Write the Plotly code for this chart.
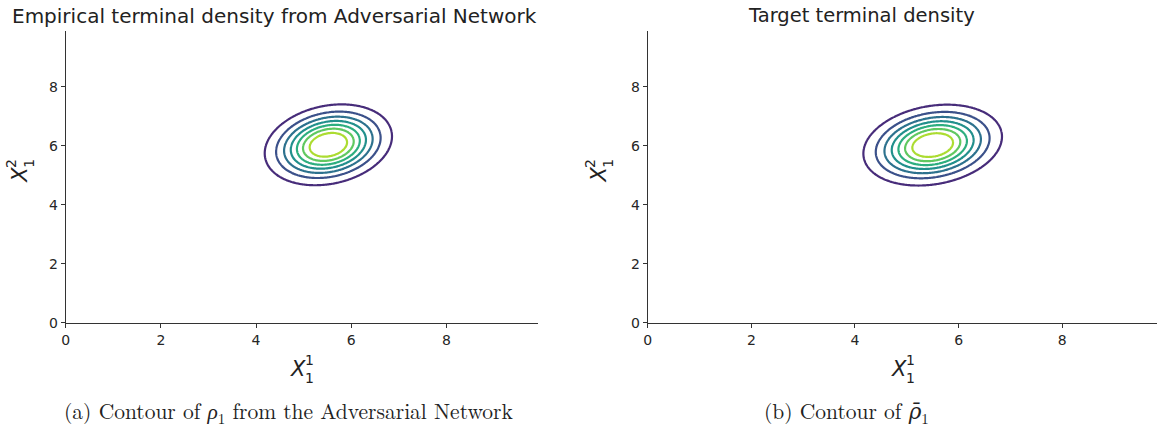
import numpy as np
import plotly.graph_objects as go
from plotly.colors import sample_colorscale

# Gaussian terminal densities: learned (left) and target (right)
learned_mean = [5.52, 6.03]
learned_cov = [[0.42, 0.09], [0.09, 0.44]]
target_mean = [5.50, 6.02]
target_cov = [[0.42, 0.09], [0.09, 0.44]]

# Contour levels shared by both panels
contour_levels = [0.045, 0.09, 0.135, 0.18, 0.225, 0.27, 0.315]
level_top = 0.36

tick_values = [0, 2, 4, 6, 8]
panel_titles = ["Empirical terminal density from Adversarial Network", "Target terminal density"]
captions = ["(a) Contour of <i>ρ</i><sub>1</sub> from the Adversarial Network",
            "(b) Contour of <span style=\"font-family:DejaVu Serif\"><i>ρ\u0304</i></span><sub>1</sub>"]

W, H = 1157, 430
grid_x = np.linspace(2.5, 8.5, 241)
grid_y = np.linspace(3.0, 9.0, 241)

# viridis sampled at each level's share of the top level
line_colors = sample_colorscale("Viridis", [lv / level_top for lv in contour_levels])
n = len(line_colors)
level_scale = [[k / (n - 1), col] for k, col in enumerate(line_colors)]


def density(mean, cov):
    gx, gy = np.meshgrid(grid_x, grid_y)
    c = np.array(cov)
    inv = np.linalg.inv(c)
    dx, dy = gx - mean[0], gy - mean[1]
    q = inv[0, 0] * dx * dx + 2 * inv[0, 1] * dx * dy + inv[1, 1] * dy * dy
    return np.exp(-0.5 * q) / (2 * np.pi * np.sqrt(np.linalg.det(c)))


def px(x, y):
    return x / W, 1 - y / H


fig = go.Figure()
for i, (m, c) in enumerate([(learned_mean, learned_cov), (target_mean, target_cov)]):
    suffix = "" if i == 0 else "2"
    fig.add_trace(go.Contour(
        x=grid_x, y=grid_y, z=density(m, c),
        xaxis="x" + suffix, yaxis="y" + suffix,
        colorscale=level_scale,
        contours=dict(coloring="lines", start=contour_levels[0],
                      end=contour_levels[-1],
                      size=contour_levels[1] - contour_levels[0]),
        line=dict(width=2.2), showscale=False, hoverinfo="skip",
    ))

axis_common = dict(
    showgrid=False, zeroline=False, showline=True, linecolor="#333333", linewidth=1,
    ticks="outside", ticklen=4, tickwidth=1, tickcolor="#333333",
    tickvals=tick_values, tickfont=dict(family="DejaVu Sans", size=14, color="#262626"),
)
ydom = [1 - 329 / H, 1 - 32 / H]
fig.update_layout(
    width=W, height=H, margin=dict(l=0, r=0, t=0, b=0),
    paper_bgcolor="white", plot_bgcolor="white", showlegend=False,
    xaxis=dict(domain=[62 / W, 536 / W], range=[0, 9.93], anchor="y", **axis_common),
    yaxis=dict(domain=ydom, range=[0, 9.87], anchor="x", **axis_common),
    xaxis2=dict(domain=[646 / W, 1.0], range=[0, 9.83], anchor="y2", **axis_common),
    yaxis2=dict(domain=ydom, range=[0, 9.87], anchor="x2", **axis_common),
)

ann = []
sans = "DejaVu Sans"


def text(x, y, s, size, family=sans, angle=0):
    ax, ay = px(x, y)
    ann.append(dict(x=ax, y=ay, xref="paper", yref="paper", text=s, showarrow=False,
                    xanchor="center", yanchor="middle", textangle=angle,
                    font=dict(family=family, size=size, color="#222222")))


# Panel titles
text(271, 16, panel_titles[0], 20)
text(860, 16, panel_titles[1], 19.5)

# Axis labels X_1^1 and X_1^2
for cx in (295, 898):
    text(cx, 376, "<i>X</i>", 21)
    text(cx + 12, 367, "1", 14)
    text(cx + 12, 385, "1", 14)
for cy_x in (16, 597):
    text(cy_x, 178, "<i>X</i>", 21, angle=-90)
    text(cy_x - 9, 166, "2", 14, angle=-90)
    text(cy_x + 9, 166, "1", 14, angle=-90)

# Captions
serif = "Latin Modern Roman, CMU Serif, Liberation Serif, serif"
text(285, 419, captions[0], 21.5, family=serif)
text(845, 419, captions[1], 21.5, family=serif)

fig.update_layout(annotations=ann)
fig.write_html("out.html")
